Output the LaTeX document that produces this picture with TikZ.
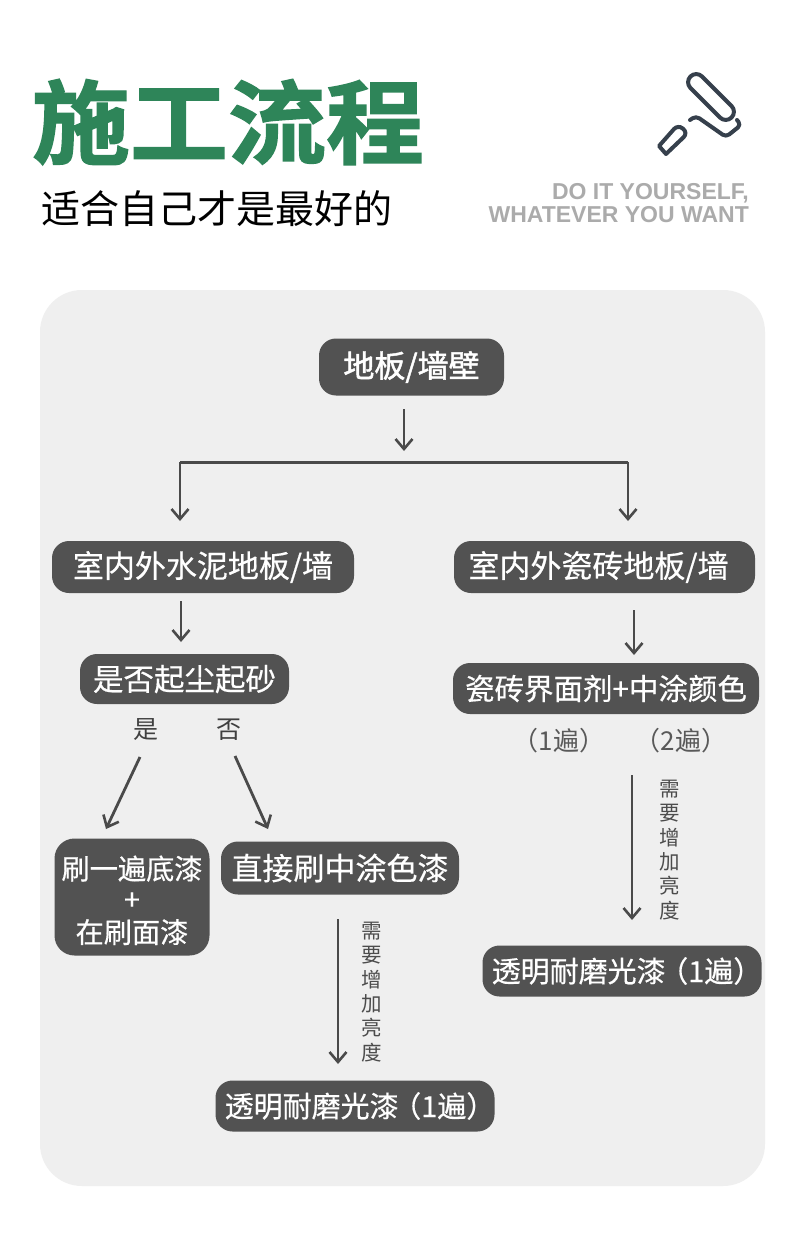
\documentclass[tikz,border=0pt]{standalone}
\usepackage{fontspec}
\setmainfont{Noto Sans CJK SC}
\newfontfamily\cjkbold{Noto Sans CJK SC}[FakeBold=1.5,BoldFont={* Bold}]
\newfontfamily\cjkmed{Noto Sans CJK SC}[FakeBold=0.5]
\setsansfont{Liberation Sans}
\usetikzlibrary{arrows.meta}
\definecolor{boxgray}{HTML}{525252}
\definecolor{panelgray}{HTML}{EFEFEF}
\definecolor{titlegreen}{HTML}{2E8559}
\definecolor{icondark}{HTML}{36404C}
\definecolor{linegray}{HTML}{4A4A4A}
\newcommand{\boxsize}[1]{\fontsize{#1}{#1}\selectfont}
\newcommand{\paren}[1]{\hspace{-0.22em}（#1）}
\tikzset{
  x=1pt,y=-1pt,
  stepbox/.style={fill=boxgray,draw=none,rounded corners=17pt,text=white,inner sep=0pt,align=center,font=\cjkmed\boxsize{31}},
  flow/.style={draw=linegray,line width=2.8pt,-{Straight Barb[length=10pt,width=17pt,line width=2.6pt]}},
  plainline/.style={draw=linegray,line width=3pt},
  lab/.style={text=black!75,inner sep=0pt,font=\fontsize{25}{30}\selectfont},
  vlab/.style={text=black!70,inner sep=0pt,align=center,font=\fontsize{20.5}{24.4}\selectfont},
  iconline/.style={draw=icondark,line width=4pt,line join=round,line cap=round},
}
\begin{document}
\begin{tikzpicture}
\useasboundingbox (0,0) rectangle (800,1249);
\fill[white] (0,0) rectangle (800,1249);
\fill[panelgray,rounded corners=42pt] (40,290) rectangle (765,1186);
% header
\node[text=titlegreen,inner sep=0pt,font=\cjkbold\bfseries\fontsize{98}{98}\selectfont] (title) at (228,122) {\scalebox{1}[0.93]{施工流程}};
\node[text=black,inner sep=0pt,font=\fontsize{39}{39}\selectfont] (subtitle) at (217,209) {适合自己才是最好的};
\node[text=black!33,inner sep=0pt,align=right,anchor=east,font=\sffamily\bfseries\fontsize{23}{22.5}\selectfont] (slogan) at (749,203) {DO IT YOURSELF,\\WHATEVER YOU WANT};
% roller icon
\begin{scope}[iconline]
\draw[rounded corners=8pt] (696.25,70.75) -- (684.75,82.25) -- (725.75,123.25) -- (737.25,111.75) -- cycle;
\draw[rounded corners=4pt] (690,120) -- (696,116) -- (726,137) -- (741,125) -- (737,120);
\draw (659,146) [rounded corners=6pt] -- (678,124.5) -- (688,133) [sharp corners] -- (666,154) -- cycle;
\end{scope}
% boxes
\node[stepbox,minimum width=185pt,minimum height=57pt,font=\cjkbold\boxsize{31}] (root) at (411.5,367) {\raisebox{-1pt}{地板/墙壁}};
\node[stepbox,minimum width=302pt,minimum height=52pt] (left) at (203,567) {\raisebox{-2pt}{室内外水泥地板/墙}};
\node[stepbox,minimum width=301pt,minimum height=52pt] (right) at (604.5,567) {\makebox[0pt]{\hspace{-12pt}\raisebox{-2pt}{室内外瓷砖地板/墙}}};
\node[stepbox,minimum width=209pt,minimum height=50pt,font=\cjkmed\boxsize{30.5}] (dust) at (184.5,679) {是否起尘起砂};
\node[stepbox,minimum width=306pt,minimum height=51pt,font=\cjkmed\boxsize{29.5}] (tile) at (606,688.5) {瓷砖界面剂+中涂颜色};
\node[stepbox,minimum width=155pt,minimum height=117pt,rounded corners=20pt,font=\cjkmed\fontsize{28.2}{30.6}\selectfont] (prime) at (132,897) {\raisebox{-13pt}[0pt][0pt]{\begin{tabular}{@{}c@{}}刷一遍底漆\\+\\在刷面漆\end{tabular}}};
\node[stepbox,minimum width=238pt,minimum height=53pt] (direct) at (340,868) {直接刷中涂色漆};
\node[stepbox,minimum width=279pt,minimum height=51pt,font=\cjkmed\boxsize{29}] (clearL) at (355,1106) {\makebox[0pt]{\hspace{10pt}透明耐磨光漆\paren{1遍}}};
\node[stepbox,minimum width=279pt,minimum height=51pt,font=\cjkmed\boxsize{29}] (clearR) at (622,971) {\makebox[0pt]{\hspace{10pt}透明耐磨光漆\paren{1遍}}};
% labels
\node[lab] (yes) at (146,730) {是};
\node[lab] (no) at (229,730) {否};
\node[lab,text=black!65,font=\fontsize{26}{30}\selectfont] (once) at (559,741) {（1遍）};
\node[lab,text=black!65,font=\fontsize{26}{30}\selectfont] (twice) at (681,741) {（2遍）};
\node[vlab] (needL) at (372,992) {需\\要\\增\\加\\亮\\度};
\node[vlab] (needR) at (670,850) {需\\要\\增\\加\\亮\\度};
% connector ends
\coordinate (a0) at (404,409);
\coordinate (a1) at (404,451);
\coordinate (busL) at (180,462);
\coordinate (busR) at (628,462);
\coordinate (bL) at (180,521);
\coordinate (bR) at (628,521);
\coordinate (c0) at (181,601);
\coordinate (c1) at (181,642);
\coordinate (d0) at (634,610);
\coordinate (d1) at (634,655);
\coordinate (e0) at (140,757);
\coordinate (e1) at (106,829);
\coordinate (f0) at (235,756);
\coordinate (f1) at (268,829);
\coordinate (g0) at (338,919);
\coordinate (g1) at (338,1064);
\coordinate (h0) at (632,775);
\coordinate (h1) at (632,920);
% connectors
\draw[flow] (a0) -- (a1);
\draw[plainline] (busL) -- (busR);
\draw[flow] (busL) -- (bL);
\draw[flow] (busR) -- (bR);
\draw[flow] (c0) -- (c1);
\draw[flow] (d0) -- (d1);
\draw[flow] (e0) -- (e1);
\draw[flow] (f0) -- (f1);
\draw[flow] (g0) -- (g1);
\draw[flow] (h0) -- (h1);
\end{tikzpicture}
\end{document}
